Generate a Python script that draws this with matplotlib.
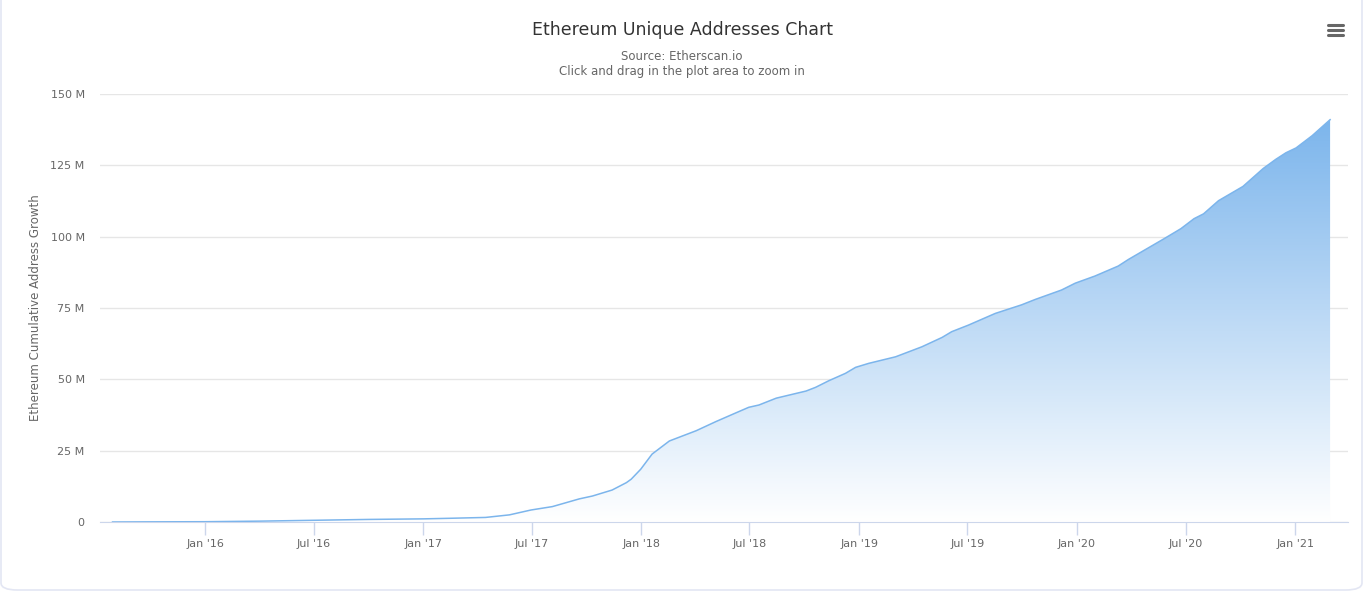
import numpy as np
import pandas as pd
import matplotlib
matplotlib.use("Agg")
import matplotlib.pyplot as plt
import matplotlib.dates as mdates
from matplotlib.patches import FancyBboxPatch, Polygon
from matplotlib.lines import Line2D
from matplotlib.colors import LinearSegmentedColormap

# cumulative unique addresses (millions)
dates = pd.to_datetime([
    "2015-07-30", "2015-10-01", "2016-01-01", "2016-04-01", "2016-07-01",
    "2016-10-01", "2017-01-01", "2017-02-14", "2017-04-15", "2017-05-25",
    "2017-06-30", "2017-08-05", "2017-09-19", "2017-10-11", "2017-11-13",
    "2017-12-07", "2017-12-15", "2017-12-31", "2018-01-19", "2018-02-17",
    "2018-04-03", "2018-05-06", "2018-06-09", "2018-06-30", "2018-07-17",
    "2018-08-15", "2018-10-04", "2018-10-20", "2018-11-11", "2018-12-09",
    "2018-12-26", "2019-01-17", "2019-03-03", "2019-04-16", "2019-05-20",
    "2019-06-05", "2019-07-03", "2019-08-17", "2019-09-30", "2019-10-23",
    "2019-12-06", "2019-12-29", "2020-01-31", "2020-03-10", "2020-03-27",
    "2020-05-26", "2020-06-23", "2020-07-15", "2020-07-31", "2020-08-25",
    "2020-10-05", "2020-11-08", "2020-11-29", "2020-12-16", "2021-01-02",
    "2021-01-29", "2021-02-28",
])
addresses = [
    0.0, 0.05, 0.1, 0.3, 0.6,
    0.9, 1.1, 1.3, 1.6, 2.5,
    4.2, 5.4, 8.1, 9.1, 11.2,
    13.8, 15.0, 18.5, 23.8, 28.4,
    32.0, 35.2, 38.3, 40.2, 41.0,
    43.4, 45.9, 47.2, 49.5, 52.1,
    54.2, 55.6, 57.9, 61.4, 64.7,
    66.7, 69.0, 73.1, 76.1, 78.0,
    81.3, 83.7, 86.2, 89.7, 92.0,
    99.3, 102.8, 106.3, 108.0, 112.6,
    117.6, 123.9, 127.1, 129.4, 131.1,
    135.4, 141.0,
]
yticks = [0, 25, 50, 75, 100, 125, 150]

title = "Ethereum Unique Addresses Chart"
subtitle = "Source: Etherscan.io\nClick and drag in the plot area to zoom in"
ylabel = "Ethereum Cumulative Address Growth"

W, H = 1364, 591
fig = plt.figure(figsize=(W / 100, H / 100), dpi=100)
fig.patch.set_facecolor("white")

# page card border
card = FancyBboxPatch((1 / W, 1 / H), 1 - 3 / W, 1.2, boxstyle="round,pad=0,rounding_size=0.012",
                      transform=fig.transFigure, facecolor="white", edgecolor="#e3e6f3", lw=1.2,
                      zorder=-10)
fig.add_artist(card)

ax = fig.add_axes([100 / W, (H - 522) / H, 1248 / W, 428 / H])
ax.set_facecolor("none")

x = mdates.date2num(dates)
y = np.array(addresses)

# gradient fill under the curve
cmap = LinearSegmentedColormap.from_list("g", ["#ffffff", "#7cb5ec"])
grad = np.linspace(0, 1, 256).reshape(-1, 1)
im = ax.imshow(grad, cmap=cmap, aspect="auto", origin="lower",
               extent=[x[0], x[-1], 0, y.max()], zorder=1)
poly = Polygon(np.column_stack([np.r_[x, x[-1], x[0]], np.r_[y, 0, 0]]),
               closed=True, facecolor="none", edgecolor="none")
ax.add_patch(poly)
im.set_clip_path(poly)
ax.plot(x, y, color="#7cb5ec", lw=1.1, zorder=3)

ax.set_xlim(mdates.date2num(pd.Timestamp("2015-07-09")), mdates.date2num(pd.Timestamp("2021-03-30")))
ax.set_ylim(0, 150)
ax.set_yticks(yticks)
ax.set_yticklabels(["0" if v == 0 else f"{v} M" for v in yticks])
ax.yaxis.grid(True, color="#e6e6e6", lw=1)
ax.set_axisbelow(True)

ax.xaxis.set_major_locator(mdates.MonthLocator(bymonth=[1, 7]))
ax.xaxis.set_major_formatter(mdates.DateFormatter("%b '%y"))

for s in ["top", "right", "left"]:
    ax.spines[s].set_visible(False)
ax.spines["bottom"].set_color("#ccd6eb")
ax.tick_params(axis="x", colors="#ccd6eb", length=9, width=1, labelcolor="#666666", labelsize=8, pad=3)
ax.tick_params(axis="y", length=0, labelcolor="#666666", labelsize=8, pad=11)

ax.set_ylabel(ylabel, color="#666666", fontsize=8.5, labelpad=6)

fig.text(0.5, (H - 30) / H, title, ha="center", va="center", fontsize=12.5, color="#333333")
fig.text(0.5, (H - 64) / H, subtitle, ha="center", va="center", fontsize=8.5, color="#666666",
         linespacing=1.25)

# menu icon
for dy in (-5, 0, 5):
    yy = (H - 30 + dy) / H
    fig.add_artist(Line2D([1328 / W, 1343 / W], [yy, yy], color="#666666", lw=2.2,
                          solid_capstyle="round", transform=fig.transFigure))

fig.savefig("out.png", dpi=100)
